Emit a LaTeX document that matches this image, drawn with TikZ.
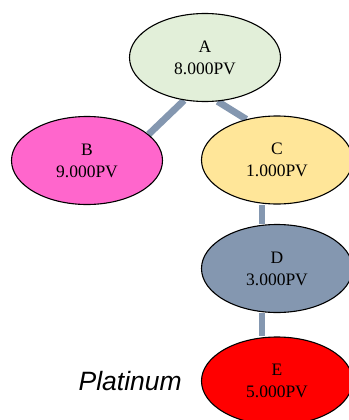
\documentclass[tikz,border=0pt]{standalone}
\usepackage{fontspec}
\setmainfont{Liberation Serif}
\newfontfamily\platfont{Liberation Sans}
\usetikzlibrary{shapes.geometric,positioning,backgrounds}
\definecolor{colA}{HTML}{E2EFD9}
\definecolor{colB}{HTML}{FF66CC}
\definecolor{colC}{HTML}{FFE699}
\definecolor{colD}{HTML}{8497B0}
\definecolor{colE}{HTML}{FF0000}
\definecolor{edgecol}{HTML}{8497B0}
\tikzset{
	member/.style={ellipse, draw=black, line width=1.1pt, minimum width=151pt, minimum height=88pt, inner sep=0pt, align=center, font=\fontsize{17.5}{22}\selectfont},
	link/.style={draw=edgecol, line width=6.8pt}
}
\begin{document}
\begin{tikzpicture}[x=1pt, y=-1pt, line join=round]
	\useasboundingbox (0,0) rectangle (348,420);
	\foreach \n/\x/\y/\v in {A/205/57.5/8,B/87/160.5/9,C/277/160/1,D/277/268.5/3,E/277/381/5}{
		\node[member, fill=col\n] (\n) at (\x,\y) {\n\\\v.000PV};
	}
	\node[left=19pt of E, font=\platfont\itshape\fontsize{26.5}{30}\selectfont, inner sep=0pt] (plat) {Platinum};
	\begin{scope}[on background layer]
		\draw[link] (A.244)--(B.23);
		\draw[link] (A.286)--(C.127);
		\draw[link] ([xshift=-15pt]C.south)--([xshift=-15pt]D.north);
		\draw[link] ([xshift=-15pt]D.south)--([xshift=-15pt]E.north);
	\end{scope}
\end{tikzpicture}
\end{document}
